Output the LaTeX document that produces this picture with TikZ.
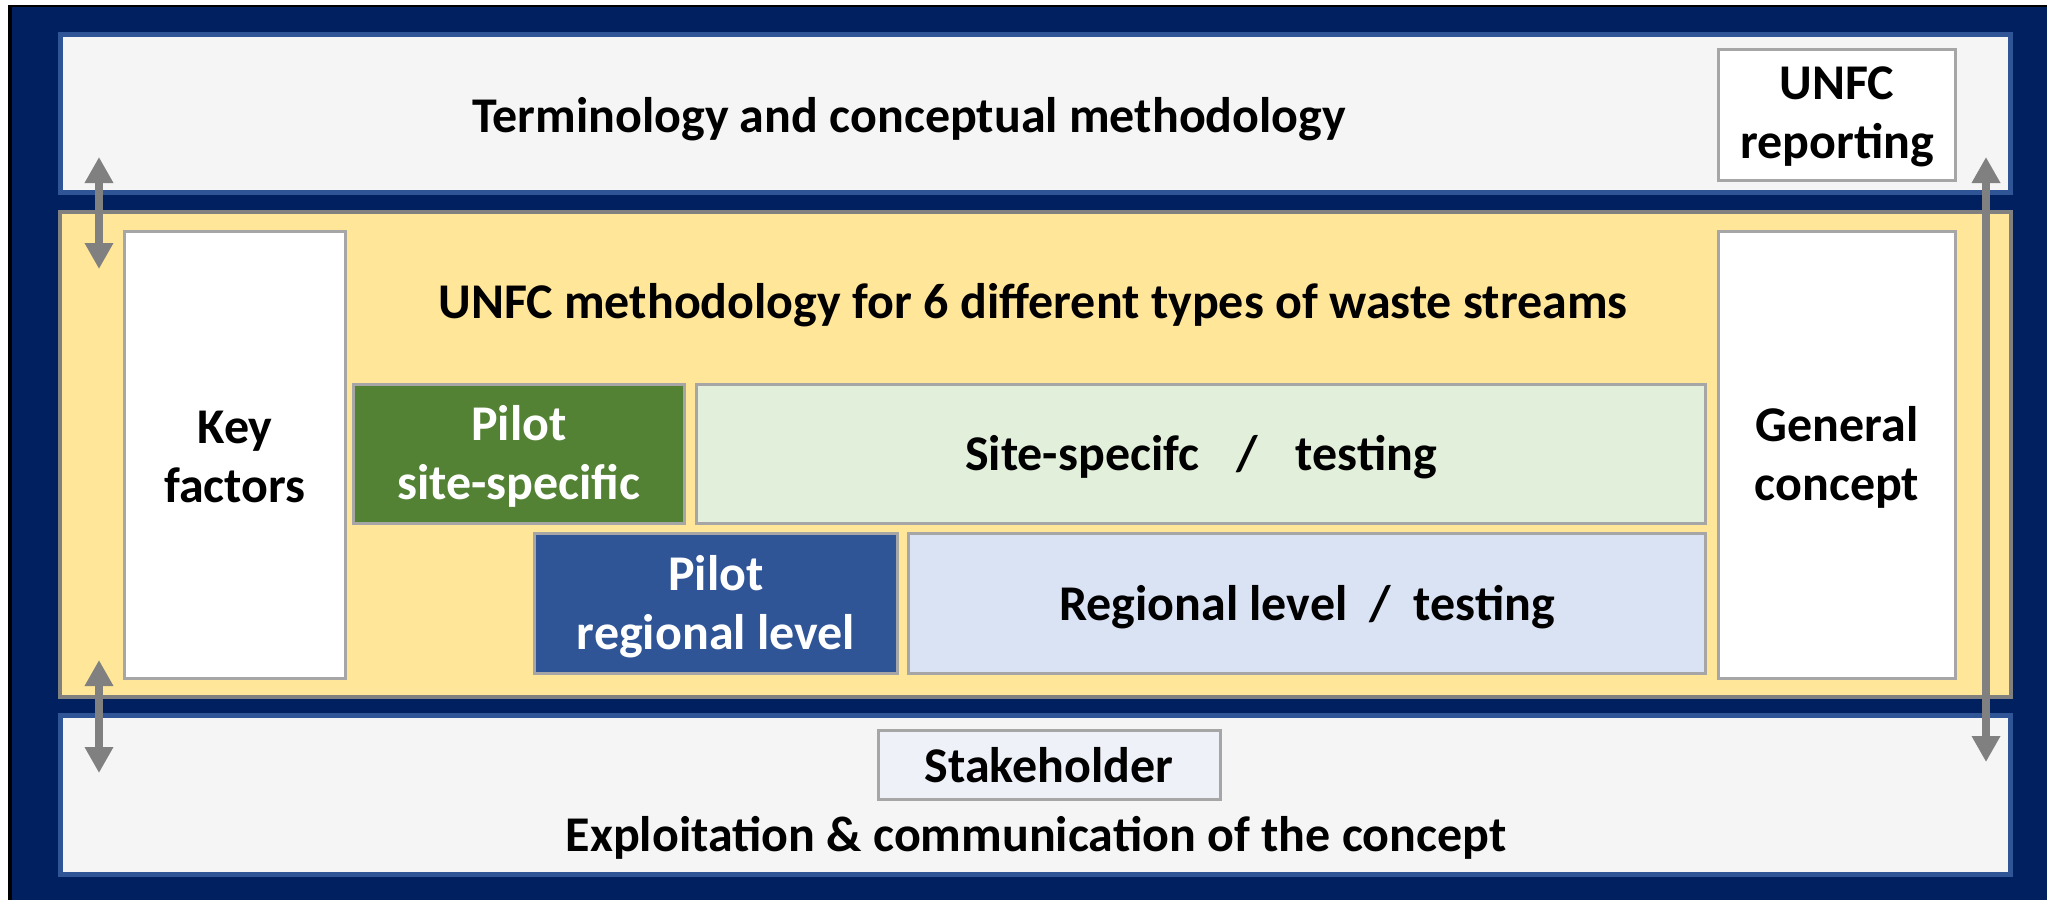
\documentclass[tikz,border=0pt]{standalone}
\usepackage{fontspec}
\setmainfont{Carlito}
\usetikzlibrary{arrows.meta}
\definecolor{navy}{HTML}{002060}
\definecolor{panelborder}{HTML}{2F5597}
\definecolor{panelfill}{HTML}{F5F5F5}
\definecolor{yellowfill}{HTML}{FFE699}
\definecolor{yellowborder}{HTML}{808080}
\definecolor{boxborder}{HTML}{A6A6A6}
\definecolor{darkgreen}{HTML}{548235}
\definecolor{lightgreen}{HTML}{E2EFDA}
\definecolor{midblue}{HTML}{2F5597}
\definecolor{lightblue}{HTML}{DAE3F3}
\definecolor{stakefill}{HTML}{EEF1F7}
\definecolor{arrowgray}{HTML}{808080}
\tikzset{
  panel/.style={draw=panelborder, line width=5pt, fill=panelfill},
  yellowpanel/.style={draw=yellowborder, line width=4pt, fill=yellowfill},
  whitebox/.style={draw=boxborder, line width=3pt, fill=white},
  lbl/.style={font=\fontsize{50}{59}\selectfont\bfseries, align=center, inner sep=0pt},
  wlbl/.style={lbl, text=white},
  dblarrow/.style={draw=arrowgray, line width=8pt, {Triangle[width=27pt,length=26pt]}-{Triangle[width=27pt,length=26pt]}},
}
\begin{document}
\begin{tikzpicture}[x=1pt,y=-1pt]
\useasboundingbox (0,0) rectangle (2047,900);
\fill[white] (0,0) rectangle (2047,900);
\fill[black] (8,5) rectangle (2047,900);
\fill[navy] (12,7) rectangle (2047,900);
% panels
\draw[panel] (60.5,34.5) rectangle (2010.5,192.5);
\draw[yellowpanel] (60,212) rectangle (2011,697);
\draw[panel] (60.5,715.5) rectangle (2010.5,874.5);
% panel texts
\node[lbl] (term) at (909,119) {Terminology and conceptual methodology};
\node[lbl] (unfcm) at (1033,305) {UNFC methodology for 6 different types of waste streams};
\node[lbl] (expl) at (1036,838) {Exploitation \& communication of the concept};
% boxes
\draw[whitebox] (1718.5,49.5) rectangle (1955.5,180.5);
\node[lbl] (rep) at (1837,117) {UNFC\\reporting};
\draw[whitebox] (124.5,231.5) rectangle (345.5,678.5);
\node[lbl] (key) at (235,457) {Key\\factors};
\draw[whitebox] (1718.5,231.5) rectangle (1955.5,678.5);
\node[lbl] (gen) at (1837,457) {General\\concept};
\draw[draw=boxborder, line width=3pt, fill=darkgreen] (353.5,384.5) rectangle (684.5,523.5);
\node[wlbl] (pss) at (519,456) {Pilot\\site-specific};
\draw[draw=boxborder, line width=3pt, fill=lightgreen] (696.5,384.5) rectangle (1705.5,523.5);
\node[lbl] (sst) at (1201,457) {Site-specifc\hspace{0.75em}/\hspace{0.75em}testing};
\draw[draw=boxborder, line width=3pt, fill=midblue] (534.5,533.5) rectangle (897.5,673.5);
\node[wlbl] (prl) at (716,607) {Pilot\\regional level};
\draw[draw=boxborder, line width=3pt, fill=lightblue] (908.5,533.5) rectangle (1705.5,673.5);
\node[lbl] (rlt) at (1307,607) {Regional level\hspace{0.45em}/\hspace{0.45em}testing};
\draw[draw=boxborder, line width=3pt, fill=stakefill] (878.5,730.5) rectangle (1220.5,799.5);
\node[lbl] (stk) at (1049,765) {Stakeholder};
% arrows
\coordinate (a1t) at (99,157);
\coordinate (a1b) at (99,269);
\coordinate (a2t) at (99,660);
\coordinate (a2b) at (99,773);
\coordinate (a3t) at (1986,157);
\coordinate (a3b) at (1986,762);
\draw[dblarrow] (a1t) -- (a1b);
\draw[dblarrow] (a2t) -- (a2b);
\draw[dblarrow] (a3t) -- (a3b);
\end{tikzpicture}
\end{document}
